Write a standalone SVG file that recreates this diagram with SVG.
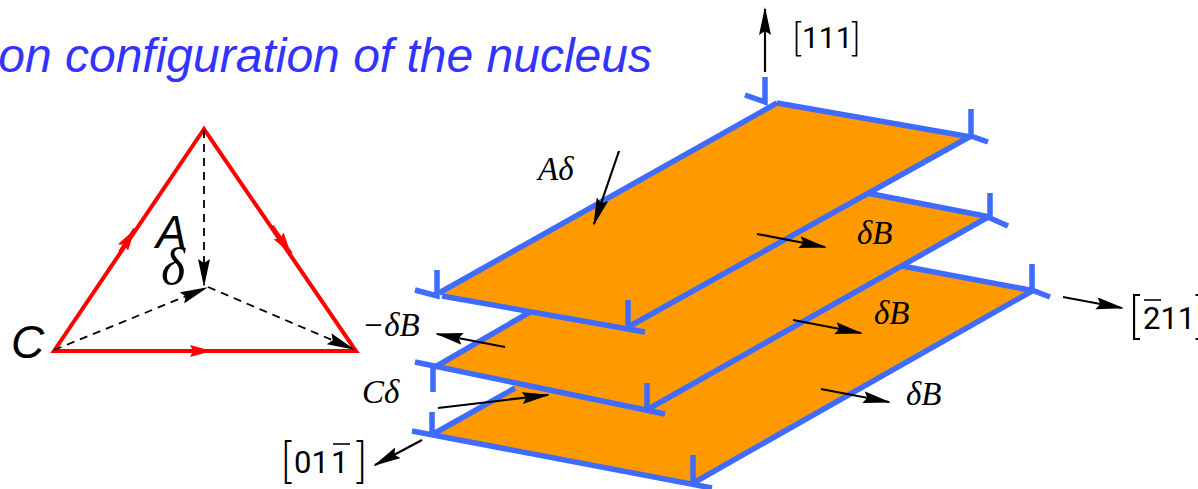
<svg xmlns="http://www.w3.org/2000/svg" width="1198" height="489" viewBox="0 0 1198 489">
<style>
.plate{fill:#FF9900;stroke:none}
.edge{fill:none;stroke:#3F6BFF;stroke-width:5.5;stroke-linecap:butt;stroke-linejoin:miter}
.arrow{fill:none;stroke:#000;stroke-width:2.2;marker-end:url(#head)}
.dash{fill:none;stroke:#000;stroke-width:1.8;stroke-dasharray:8 6;marker-end:url(#head)}
.red{fill:none;stroke:#FF0000;stroke-width:4;stroke-linejoin:miter}
.redhead{fill:none;stroke:#FF0000;stroke-width:4;marker-end:url(#redhead)}
.m{font-family:"Liberation Serif",serif;font-style:italic;font-size:33px;fill:#000}
.s{font-family:Roboto,"Liberation Sans",sans-serif;fill:#000;font-kerning:none}
.b{font-family:Inter,"Liberation Sans",sans-serif;font-weight:200}
.bar{stroke:#000;stroke-width:1.6}
</style>
<defs>
<marker id="head" markerUnits="userSpaceOnUse" markerWidth="30" markerHeight="14" viewBox="0 0 30 14" refX="26" refY="6" orient="auto"><path d="M0 0L28 6L0 12L4 6Z" fill="#000"/></marker>
<marker id="redhead" markerUnits="userSpaceOnUse" markerWidth="26" markerHeight="14" viewBox="0 0 26 14" refX="22" refY="7" orient="auto"><path d="M0 1L22 7L0 13L3 7Z" fill="#FF0000"/></marker>
</defs>
<g id="title"><text x="652" y="72" text-anchor="end" font-family="Liberation Sans, Arial, sans-serif" font-style="italic" font-size="48" fill="#3333FF">ion configuration of the nucleus</text></g>
<g id="triangle">
<polygon class="red" points="204,129 54,351 356,351"/>
<line class="redhead" x1="120" y1="252" x2="135" y2="229"/>
<line class="redhead" x1="272" y1="226" x2="291" y2="254"/>
<line class="redhead" x1="190" y1="351" x2="212" y2="351"/>
<text x="156" y="248" font-family="Liberation Sans, Arial, sans-serif" font-style="italic" font-size="46" fill="#000">A</text>
<text x="161" y="284" font-family="Liberation Serif, serif" font-style="italic" font-size="52" fill="#000">δ</text>
<text x="11" y="358" font-family="Liberation Sans, Arial, sans-serif" font-style="italic" font-size="46" fill="#000">C</text>
</g>
<g id="plate-bottom">
<polygon class="plate" points="426,436 693,485 1032,291 767,243"/>
<path class="edge" d="M435 433L515 388"/>
<path class="edge" d="M412 431L712 488"/>
<path class="edge" d="M432 412V435"/>
<path class="edge" d="M693 455V484"/>
<path class="edge" d="M695 482L1032 291"/>
<path class="edge" d="M1032 264V290L1050 297"/>
<path class="edge" d="M902 266L1030 290"/>
</g>
<g id="plate-middle">
<polygon class="plate" points="435,367 648,409 988,216 773,175"/>
<path class="edge" d="M435 367L530 312"/>
<path class="edge" d="M415 362L665 414"/>
<path class="edge" d="M433 367V392"/>
<path class="edge" d="M647 383V410"/>
<path class="edge" d="M650 408L990 216"/>
<path class="edge" d="M990 193V218L1008 226"/>
<path class="edge" d="M867 193L990 217"/>
</g>
<g id="plate-top">
<polygon class="plate" points="441,295 628,328 968,138 777,101"/>
<path class="edge" d="M439 293L777 103"/>
<path class="edge" d="M442 296L645 332"/>
<path class="edge" d="M437 270V296L415 290"/>
<path class="edge" d="M628 300V328"/>
<path class="edge" d="M630 326L971 136"/>
<path class="edge" d="M971 109V136L988 142"/>
<path class="edge" d="M777 103L971 137"/>
<path class="edge" d="M765 77V102L745 95"/>
</g>
<g id="connectors">
<line class="dash" x1="204" y1="130" x2="204" y2="285"/>
<line class="dash" x1="54" y1="350" x2="206" y2="288"/>
<line class="dash" x1="208" y1="287" x2="353" y2="349"/>
<line class="arrow" x1="765" y1="72" x2="765" y2="9"/>
<line class="arrow" x1="619" y1="151" x2="594" y2="224"/>
<line class="arrow" x1="757" y1="234" x2="825" y2="247"/>
<line class="arrow" x1="793" y1="320" x2="861" y2="333"/>
<line class="arrow" x1="821" y1="389" x2="889" y2="402"/>
<line class="arrow" x1="505" y1="347" x2="437" y2="334"/>
<line class="arrow" x1="438" y1="408" x2="548" y2="395"/>
<line class="arrow" x1="422" y1="440" x2="375" y2="465"/>
<line class="arrow" x1="1063" y1="297" x2="1122" y2="308"/>
</g>
<g id="labels">
<text class="m" x="538" y="180">Aδ</text>
<text class="m" x="857" y="244">δB</text>
<text class="m" x="874" y="324">δB</text>
<text class="m" x="906" y="405">δB</text>
<text class="m" x="362" y="336">−δB</text>
<text class="m" x="362" y="403">Cδ</text>
<text id="dir-111" class="s"><tspan class="b" x="791" y="51" font-size="39">[</tspan><tspan x="802" y="48" font-size="30">111</tspan><tspan class="b" x="849" y="51" font-size="39">]</tspan></text>
<text id="dir-211" class="s"><tspan class="b" x="1127" y="333" font-size="50">[</tspan><tspan x="1143" y="329" font-size="31">211</tspan><tspan class="b" x="1192" y="333" font-size="50">]</tspan></text>
<line class="bar" x1="1144" y1="300" x2="1161" y2="300"/>
<text id="dir-011" class="s"><tspan class="b" x="279" y="477" font-size="48">[</tspan><tspan x="294" y="473" font-size="31">01</tspan><tspan x="331" y="473" font-size="31">1</tspan><tspan class="b" x="353" y="477" font-size="48">]</tspan></text>
<line class="bar" x1="333" y1="444" x2="350" y2="444"/>
</g>
</svg>
